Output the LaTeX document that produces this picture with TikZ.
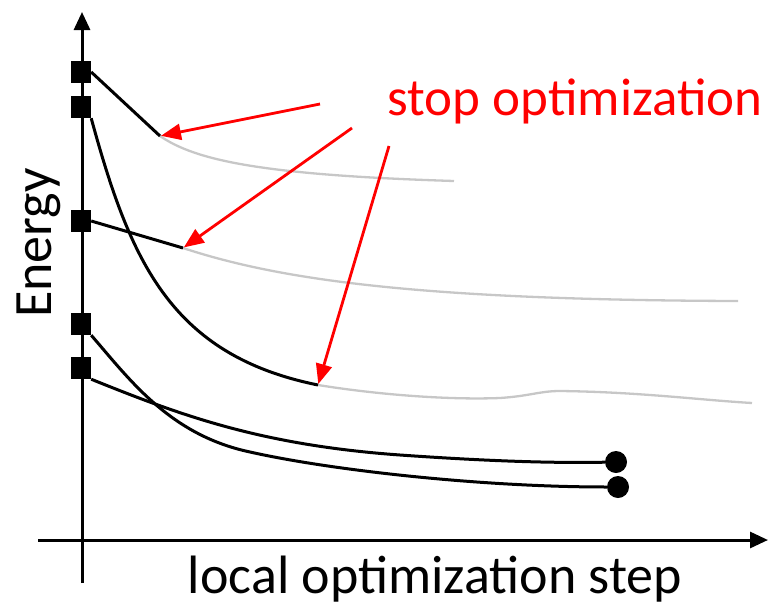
\documentclass[tikz,border=0pt]{standalone}
\usepackage{fontspec}
\setmainfont{Carlito}
\usetikzlibrary{arrows.meta,positioning}

\tikzset{
	start/.style={fill=black, minimum width=20pt, minimum height=22pt, inner sep=0pt},
	finish/.style={circle, fill=black, minimum size=22pt, inner sep=0pt},
	run/.style={line width=3pt, black},
	rest/.style={line width=2.3pt, black!22},
	hint/.style={line width=2.8pt, red, shorten >=1pt, -{Triangle[length=20pt,width=16pt]}},
	axis/.style={line width=3pt, -{Triangle[length=18pt,width=16pt]}},
}

\begin{document}
\begin{tikzpicture}[x=1pt,y=-1pt]
\useasboundingbox (0,0) rectangle (782,608);

% axes
\coordinate	(o_y)	at (82,583);
\coordinate	(t_y)	at (82,12);
\coordinate	(o_x)	at (38,540);
\coordinate	(t_x)	at (768,540);
\draw[axis]	(o_y) -- (t_y);
\draw[axis]	(o_x) -- (t_x);
\node[rotate=90, anchor=base]	(e_lab)	at (51,243)	{\fontsize{54}{56}\selectfont Energy};
\node[anchor=base]				(s_lab)	at (435,593)	{\fontsize{54}{56}\selectfont local optimization step};

% where the runs are cut off
\coordinate	(c_1)	at (160,136);
\coordinate	(c_2)	at (183,248);
\coordinate	(c_3)	at (318,385);
\coordinate	(g_1)	at (454,181);
\coordinate	(g_2)	at (738,301);
\coordinate	(g_3)	at (752,403);

% grey tails
\draw[rest]	(c_1) .. controls (195,160) and (260,175) .. (g_1);
\draw[rest]	(c_2) .. controls (280,280) and (420,300) .. (g_2);
\draw[rest]	(c_3) .. controls (380,395) and (450,400) .. (500,398)
			.. controls (530,396) and (540,391) .. (560,391)
			.. controls (640,392) and (700,400) .. (g_3);

% runs
\node[start]	(q_1)	at (81,72)		{};
\node[start]	(q_2)	at (81,107)	{};
\node[start]	(q_3)	at (81,221)	{};
\node[start]	(q_4)	at (81,324)	{};
\node[start]	(q_5)	at (81,368)	{};
\node[finish]	(m_5)	at (616,462)	{};
\node[finish]	(m_4)	at (618,487)	{};

\draw[run]	(q_1.east) -- (c_1);
\draw[run]	(q_3.east) -- (c_2);
\draw[run]	(q_2.south east) .. controls (130,260) and (170,355) .. (c_3);
\draw[run]	(q_4.south east) .. controls (130,380) and (170,435) .. (250,452)
			.. controls (330,470) and (480,487) .. (m_4);
\draw[run]	(q_5.south east) .. controls (180,415) and (260,445) .. (400,455)
			.. controls (500,462) and (560,463) .. (m_5);

% annotation
\node[anchor=base, text=red]	(stop)	at (575,115)	{\fontsize{53}{55}\selectfont stop optimization};
\coordinate	(a_1)	at (320,104);
\coordinate	(a_2)	at (352,128);
\coordinate	(a_3)	at (389,146);
\path[hint]
(a_1)	edge	(c_1)
(a_2)	edge	(c_2)
(a_3)	edge	(c_3)
;
\end{tikzpicture}
\end{document}
